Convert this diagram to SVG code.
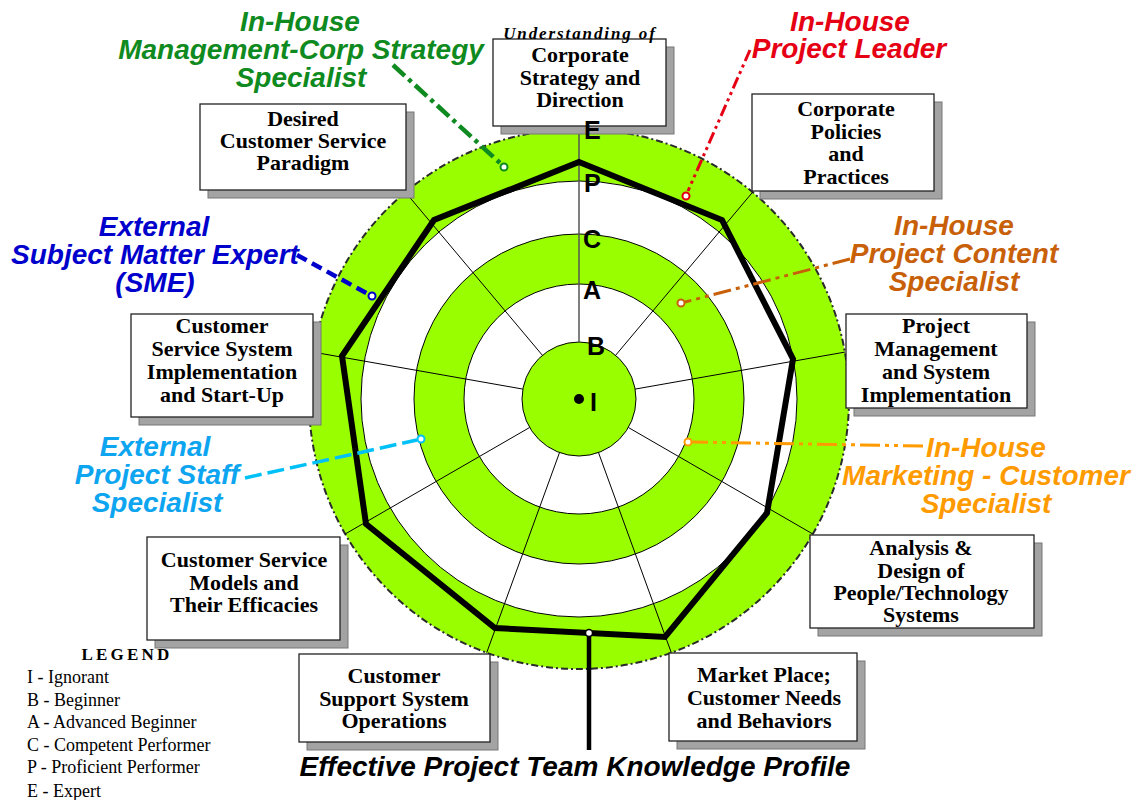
<svg xmlns="http://www.w3.org/2000/svg" width="1133" height="800" viewBox="0 0 1133 800">
<style>
.box{fill:#fff;stroke:#222;stroke-width:1.3}
.shadow{fill:#a3a3a3;stroke:#777;stroke-width:1}
.bt{font-family:"Liberation Serif","Times New Roman",serif;font-weight:bold;font-size:22px;text-anchor:middle;fill:#000}
.lbl{font-family:"Liberation Sans",Arial,sans-serif;font-weight:bold;font-style:italic;font-size:28px;text-anchor:middle}
.lvl{font-family:"Liberation Sans",Arial,sans-serif;font-weight:bold;font-size:25px;fill:#000}
.spoke{stroke:#000;stroke-width:1}
.ring{stroke:#000;stroke-width:1}
.leg{font-family:"Liberation Serif","Times New Roman",serif;font-size:18px;fill:#000}
.dot{fill:#fff;stroke-width:2}
</style>

<g id="chart">
  <circle cx="579" cy="399" r="270" fill="#99ff00" stroke="#2a2a2a" stroke-width="2" stroke-dasharray="7 3 2 3"/>
  <circle class="ring" cx="579" cy="399" r="218" fill="#fff"/>
  <circle class="ring" cx="579" cy="399" r="165" fill="#99ff00"/>
  <circle class="ring" cx="579" cy="399" r="115" fill="#fff"/>
  <circle class="ring" cx="579" cy="399" r="57" fill="#99ff00"/>
  <line x1="579" y1="342" x2="579" y2="129" stroke="#555" stroke-width="1.5"/>
  <line class="spoke" x1="615.6" y1="355.3" x2="752.6" y2="192.2"/>
  <line class="spoke" x1="635.1" y1="389.1" x2="844.9" y2="352.1"/>
  <line class="spoke" x1="628.4" y1="427.5" x2="812.8" y2="534"/>
  <line class="spoke" x1="598.5" y1="452.6" x2="671.3" y2="652.7"/>
  <line class="spoke" x1="559.5" y1="452.6" x2="486.7" y2="652.7"/>
  <line class="spoke" x1="529.6" y1="427.5" x2="345.2" y2="534"/>
  <line class="spoke" x1="522.9" y1="389.1" x2="313.1" y2="352.1"/>
  <line class="spoke" x1="542.4" y1="355.3" x2="405.4" y2="192.2"/>
  <circle cx="579" cy="399" r="5" fill="#000"/>
  <polygon points="579,162 722,220 793,359 767,513 665,637 495,628 366,524 342,356 434,220" fill="none" stroke="#000" stroke-width="6" stroke-linejoin="miter"/>
</g>

<g id="connectors" fill="none">
  <line x1="393" y1="65" x2="500" y2="163" stroke="#0f8a20" stroke-width="4.5" stroke-dasharray="16 5 4 5"/>
  <circle class="dot" cx="504" cy="167" r="3.5" stroke="#0f8a20"/>
  <line x1="750" y1="50" x2="688" y2="191" stroke="#e60014" stroke-width="3" stroke-dasharray="12 4 3 4 3 4"/>
  <circle class="dot" cx="686" cy="196" r="3.5" stroke="#e60014"/>
  <line x1="850" y1="259" x2="685" y2="302" stroke="#c8600a" stroke-width="3" stroke-dasharray="18 5 4 5 4 5"/>
  <circle class="dot" cx="681" cy="303" r="3.5" stroke="#c8600a"/>
  <line x1="923" y1="446" x2="692" y2="442" stroke="#ff9a00" stroke-width="3" stroke-dasharray="20 5 4 5 4 5"/>
  <circle class="dot" cx="688" cy="442" r="3.5" stroke="#ff9a00"/>
  <line x1="297" y1="255" x2="368" y2="294" stroke="#0000cc" stroke-width="4.5" stroke-dasharray="11 6"/>
  <circle class="dot" cx="372" cy="296" r="3.5" stroke="#0000cc"/>
  <line x1="245" y1="478" x2="417" y2="440" stroke="#00c0f8" stroke-width="3.5" stroke-dasharray="17 6"/>
  <circle class="dot" cx="421" cy="439" r="3.5" stroke="#00c0f8"/>
  <line x1="589" y1="636" x2="589" y2="750" stroke="#000" stroke-width="4.5"/>
  <circle cx="589" cy="633" r="3.5" fill="#fff" stroke="#000" stroke-width="1.5"/>
</g>

<g id="node-strategy">
  <rect class="shadow" x="501" y="47" width="173" height="87"/>
  <rect class="box" x="493" y="39" width="173" height="87"/>
  <text class="bt"><tspan x="580" y="62">Corporate</tspan><tspan x="580" y="84.5">Strategy and</tspan><tspan x="580" y="107">Direction</tspan></text>
  <text x="580" y="39" text-anchor="middle" font-family="Liberation Serif, Times New Roman, serif" font-weight="bold" font-style="italic" font-size="17" letter-spacing="1.9">Understanding of</text>
</g>

<g id="node-policies">
  <rect class="shadow" x="760" y="102" width="182" height="97"/>
  <rect class="box" x="752" y="94" width="182" height="97"/>
  <text class="bt"><tspan x="846" y="116">Corporate</tspan><tspan x="846" y="138.5">Policies</tspan><tspan x="846" y="161">and</tspan><tspan x="846" y="183.5">Practices</tspan></text>
</g>

<g id="node-projmgmt">
  <rect class="shadow" x="854" y="322" width="181" height="94"/>
  <rect class="box" x="846" y="314" width="181" height="94"/>
  <text class="bt"><tspan x="936" y="333">Project</tspan><tspan x="936" y="356">Management</tspan><tspan x="936" y="379">and System</tspan><tspan x="936" y="401.5">Implementation</tspan></text>
</g>

<g id="node-analysis">
  <rect class="shadow" x="818" y="543" width="224" height="93"/>
  <rect class="box" x="810" y="535" width="224" height="93"/>
  <text class="bt"><tspan x="921" y="555">Analysis &amp;</tspan><tspan x="921" y="577.5">Design of</tspan><tspan x="921" y="600">People/Technology</tspan><tspan x="921" y="622">Systems</tspan></text>
</g>

<g id="node-market">
  <rect class="shadow" x="677" y="661" width="188" height="88"/>
  <rect class="box" x="669" y="653" width="188" height="88"/>
  <text class="bt"><tspan x="764" y="682">Market Place;</tspan><tspan x="764" y="705">Customer Needs</tspan><tspan x="764" y="727.5">and Behaviors</tspan></text>
</g>

<g id="node-support">
  <rect class="shadow" x="307" y="662" width="191" height="88"/>
  <rect class="box" x="299" y="654" width="191" height="88"/>
  <text class="bt"><tspan x="394" y="683">Customer</tspan><tspan x="394" y="706">Support System</tspan><tspan x="394" y="728">Operations</tspan></text>
</g>

<g id="node-models">
  <rect class="shadow" x="155" y="545" width="193" height="103"/>
  <rect class="box" x="147" y="537" width="193" height="103"/>
  <text class="bt"><tspan x="244" y="567">Customer Service</tspan><tspan x="244" y="589.5">Models and</tspan><tspan x="244" y="612">Their Efficacies</tspan></text>
</g>

<g id="node-implementation">
  <rect class="shadow" x="139" y="322" width="182" height="103"/>
  <rect class="box" x="131" y="314" width="182" height="103"/>
  <text class="bt"><tspan x="222" y="333">Customer</tspan><tspan x="222" y="356">Service System</tspan><tspan x="222" y="379">Implementation</tspan><tspan x="222" y="401.5">and Start-Up</tspan></text>
</g>

<g id="node-paradigm">
  <rect class="shadow" x="208" y="112" width="206" height="86"/>
  <rect class="box" x="200" y="104" width="206" height="86"/>
  <text class="bt"><tspan x="303" y="126">Desired</tspan><tspan x="303" y="148">Customer Service</tspan><tspan x="303" y="170">Paradigm</tspan></text>
</g>

<g id="levels">
  <text class="lvl" x="584" y="139">E</text>
  <text class="lvl" x="584" y="192">P</text>
  <text class="lvl" x="583" y="248">C</text>
  <text class="lvl" x="583" y="299">A</text>
  <text class="lvl" x="587" y="355">B</text>
  <text class="lvl" x="590" y="411">I</text>
</g>

<g id="label-mgmt">
  <text class="lbl" fill="#0f8a20"><tspan x="300" y="31">In-House</tspan><tspan x="301" y="59">Management-Corp Strategy</tspan><tspan x="301" y="87">Specialist</tspan></text>
</g>
<g id="label-leader">
  <text class="lbl" fill="#e60014"><tspan x="850" y="31">In-House</tspan><tspan x="849" y="58">Project Leader</tspan></text>
</g>
<g id="label-content">
  <text class="lbl" fill="#c8600a"><tspan x="954" y="235">In-House</tspan><tspan x="954" y="263">Project Content</tspan><tspan x="954" y="291">Specialist</tspan></text>
</g>
<g id="label-marketing">
  <text class="lbl" fill="#ff9a00"><tspan x="986" y="457">In-House</tspan><tspan x="986" y="485">Marketing - Customer</tspan><tspan x="986" y="513">Specialist</tspan></text>
</g>
<g id="label-sme">
  <text class="lbl" fill="#0000cc"><tspan x="154" y="236">External</tspan><tspan x="155" y="264">Subject Matter Expert</tspan><tspan x="155" y="292">(SME)</tspan></text>
</g>
<g id="label-staff">
  <text class="lbl" fill="#0ea5f0"><tspan x="155" y="456">External</tspan><tspan x="157" y="484">Project Staff</tspan><tspan x="157" y="512">Specialist</tspan></text>
</g>

<g id="title">
  <text x="575" y="776" text-anchor="middle" font-family="Liberation Sans, Arial, sans-serif" font-weight="bold" font-style="italic" font-size="28" fill="#000">Effective Project Team Knowledge Profile</text>
</g>

<g id="legend">
  <text x="127" y="660" text-anchor="middle" font-family="Liberation Serif, Times New Roman, serif" font-weight="bold" font-size="17" letter-spacing="3.2">LEGEND</text>
  <text class="leg" x="27" y="683">I - Ignorant</text>
  <text class="leg" x="27" y="706">B - Beginner</text>
  <text class="leg" x="27" y="728">A - Advanced Beginner</text>
  <text class="leg" x="27" y="751">C - Competent Performer</text>
  <text class="leg" x="27" y="773">P - Proficient Performer</text>
  <text class="leg" x="27" y="797">E - Expert</text>
</g>
</svg>
